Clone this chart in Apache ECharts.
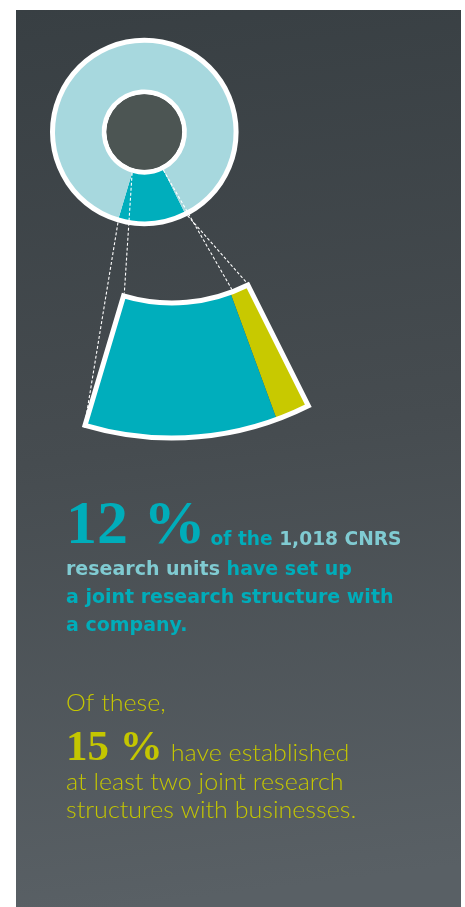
<!DOCTYPE html>
<html><head><meta charset="utf-8">
<script src="https://cdn.jsdelivr.net/npm/echarts@6/dist/echarts.min.js"></script>
<style>html,body{margin:0;padding:0;background:#fff}#c{width:465px;height:907px}</style>
</head><body><div id="c"></div>
<script>
// ---- data ----
const donutCategories = ['Units with a joint research structure', 'Other CNRS research units'];
const donutValues = [12, 88];
const fanCategories = ['At least two joint research structures', 'One joint research structure'];
const fanValues = [15, 85];
const statLabels = ['12 %', '15 %'];

// ---- style / geometry ----
const COL = {teal:'#00aebc', light:'#a7d8de', yellow:'#c8c900', hole:'#4c5553',
  tealText:'#00adba', lightText:'#80cbd2', yellowText:'#c4c600'};
const C1 = [144.3, 132], R1 = [42.6, 89.3], RING = [37.6, 94.3], HOLE = 37.8;
const C2 = [172, 133.5], R2 = [169.5, 304.5];
const START = 296.6;
const SPAN = donutValues[0] / (donutValues[0] + donutValues[1]) * 360;
const END = START - SPAN;

function pt(c, r, a){ const t = a*Math.PI/180; return [c[0] + r*Math.cos(t), c[1] - r*Math.sin(t)]; }

const mctx = document.createElement('canvas').getContext('2d');
function textEl(x, baseline, s, size, family, weight, color, sx){
  sx = sx || 1;
  const font = weight + ' ' + size + 'px ' + family;
  mctx.font = font;
  const m = mctx.measureText(s);
  let off = 0.3*size;
  if (m.fontBoundingBoxAscent) off = (m.fontBoundingBoxAscent - m.fontBoundingBoxDescent)/2;
  return {el:{type:'text', x:x, y:baseline - off, z:100, silent:true, scaleX:sx,
    style:{text:s, font:font, fill:color, align:'left', verticalAlign:'middle', textAlign:'left', textVerticalAlign:'middle'}}, w:m.width*sx};
}

const BOLD = '"DejaVu Sans", "Lato", sans-serif';
const LIGHT = '"Lato", "Noto Sans", sans-serif';
const SERIF = '"Liberation Serif", "DejaVu Serif", serif';
const graphics = [];
graphics.push({type:'rect', z:-10, silent:true, shape:{x:16, y:10, width:445, height:897},
  style:{fill:{type:'linear', x:0, y:0, x2:0.25, y2:1, colorStops:[
    {offset:0, color:'#383f43'}, {offset:0.5, color:'#464c50'}, {offset:1, color:'#596065'}]}}});

// connector dashed lines
const dash = {stroke:'#ffffff', lineWidth:1.1, lineDash:[3,2]};
function seg(a, b){ graphics.push({type:'line', z:100, silent:true, shape:{x1:a[0], y1:a[1], x2:b[0], y2:b[1]}, style:dash}); }
seg(pt(C1, R1[0], END), pt(C2, R2[0]-2.5, END));
seg(pt(C1, R1[1], END), pt(C2, R2[1]+2.5, END));
seg(pt(C1, R1[0], START), pt(C2, R2[0]-2.5, START - 5.6));
seg(pt(C1, R1[1], START), pt(C2, R2[0]-2.5, START));

// text block 1
const BS = 19;
let t = textEl(66, 548, statLabels[0], 62, SERIF, 'bold', COL.tealText); graphics.push(t.el);
let x = 66 + t.w + 5;
t = textEl(x, 547, 'of the ', BS, BOLD, 'bold', COL.tealText, 0.98); graphics.push(t.el); x += t.w;
t = textEl(x, 547, '1,018 CNRS', BS, BOLD, 'bold', COL.lightText, 0.98); graphics.push(t.el);
t = textEl(66, 577, 'research units', BS, BOLD, 'bold', COL.lightText); graphics.push(t.el); x = 66 + t.w;
t = textEl(x, 577, ' have set up', BS, BOLD, 'bold', COL.tealText); graphics.push(t.el);
graphics.push(textEl(66, 605, 'a joint research structure with', BS, BOLD, 'bold', COL.tealText).el);
graphics.push(textEl(66, 633, 'a company.', BS, BOLD, 'bold', COL.tealText).el);

// text block 2
const LS = 23, LX = 1.09;
graphics.push(textEl(66, 713, 'Of these,', LS, LIGHT, '300', COL.yellowText, LX).el);
t = textEl(66, 763, statLabels[1], 43, SERIF, 'bold', COL.yellowText); graphics.push(t.el);
graphics.push(textEl(66 + t.w + 8, 763, 'have established', LS, LIGHT, '300', COL.yellowText, LX).el);
graphics.push(textEl(66, 792, 'at least two joint research', LS, LIGHT, '300', COL.yellowText, LX).el);
graphics.push(textEl(66, 820, 'structures with businesses.', LS, LIGHT, '300', COL.yellowText, LX).el);

const base = {type:'pie', silent:true, label:{show:false}, labelLine:{show:false},
  emphasis:{disabled:true}, animation:false, avoidLabelOverlap:false};

const option = {
  animation:false,
  graphic:{elements:graphics},
  series:[
    Object.assign({}, base, {name:'ring', center:C1, radius:RING, data:[{value:1, itemStyle:{color:'#ffffff'}}]}),
    Object.assign({}, base, {name:'hole', center:C1, radius:[0, HOLE], data:[{value:1, itemStyle:{color:COL.hole}}]}),
    Object.assign({}, base, {name:'CNRS research units', center:C1, radius:R1, startAngle:START, clockwise:true,
      data:donutCategories.map((n,i)=>({name:n, value:donutValues[i], itemStyle:{color:[COL.teal, COL.light][i]}}))}),
    Object.assign({}, base, {name:'Units with joint structures', center:C2, radius:R2, startAngle:START, endAngle:END, clockwise:true,
      data:fanCategories.map((n,i)=>({name:n, value:fanValues[i], itemStyle:{color:[COL.yellow, COL.teal][i]}}))}),
    Object.assign({}, base, {name:'fanBorder', center:C2, radius:R2, startAngle:START, endAngle:END, clockwise:true,
      data:[{value:1, itemStyle:{color:'rgba(0,0,0,0)', borderColor:'#ffffff', borderWidth:5, borderJoin:'miter'}}]})
  ]
};
const chart = echarts.init(document.getElementById('c'), null, {renderer:'canvas'});
chart.setOption(option);
</script>
</body></html>
